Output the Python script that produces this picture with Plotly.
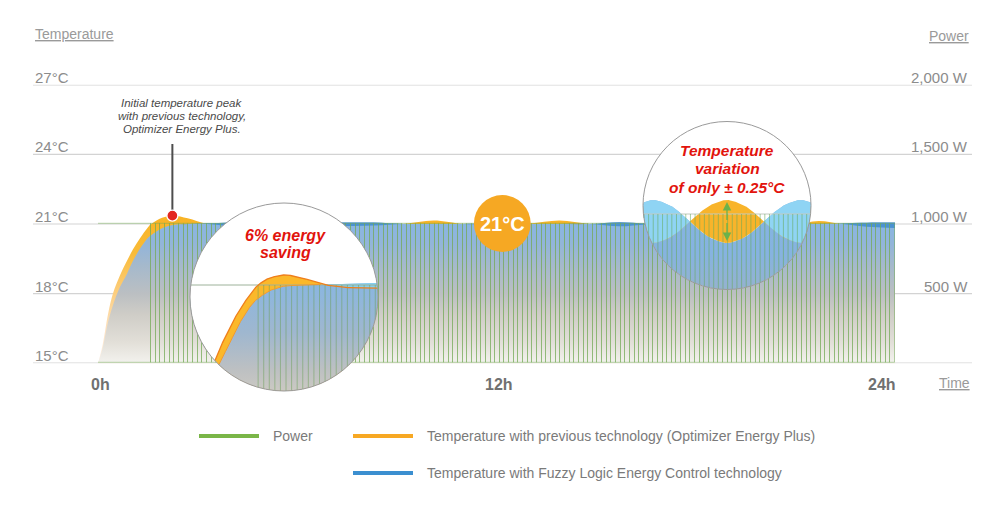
import numpy as np
import plotly.graph_objects as go

# ---------------- data ----------------
hours = [0, 0.14, 0.3, 0.45, 0.65, 0.87, 1.05, 1.27, 1.5, 1.6, 1.93, 2.27, 2.7, 3.3,
         4.0, 5.5, 7.0, 8.3, 9.2, 10.1, 11.0, 11.6, 12.3, 13.0, 13.9, 14.8, 15.7, 16.5,
         17.3, 18.1, 18.9, 19.7, 20.5, 21.0, 21.7, 22.4, 23.0, 23.6, 24.0]
temp_previous = [15.0, 15.8, 17.1, 18.0, 18.75, 19.4, 19.9, 20.4, 20.85, 21.0, 21.27, 21.36, 21.25, 21.0,
                 20.9, 20.88, 20.9, 20.93, 21.0, 21.15, 21.0, 20.97, 21.0, 21.02, 21.15, 21.0, 20.9, 20.98,
                 21.05, 21.12, 21.15, 21.1, 21.0, 20.98, 21.13, 21.0, 20.9, 20.85, 20.83]
temp_fuzzy = [15.0, 15.65, 16.75, 17.5, 18.25, 18.85, 19.4, 19.95, 20.4, 20.52, 20.82, 20.96, 21.0, 21.03,
              21.07, 21.08, 21.07, 21.06, 21.0, 21.0, 21.0, 21.02, 21.0, 21.0, 21.0, 21.0, 21.08, 21.02,
              21.0, 21.0, 21.0, 21.0, 21.0, 21.02, 21.0, 21.02, 21.05, 21.06, 21.06]

# power: one long heating block, then a pulsed control stage
power_block_start_h = [0.0, 1.6]
power_block_end_h = [1.6, 24.0]
power_block_w = [1000, 1000]
power_block_pulsed = [False, True]
pulse_period_h = 0.14

# magnified detail of the oscillation around the set point (right-hand circle)
detail_minutes = [-36, -30, -24, -18, -12, -6, 0, 6, 12, 18, 24, 30, 36]
detail_previous = [20.80, 20.75, 20.80, 20.92, 21.08, 21.20, 21.25, 21.20, 21.08, 20.92, 20.80, 20.75, 20.80]
detail_fuzzy = [21.20, 21.25, 21.20, 21.08, 20.92, 20.80, 20.75, 20.80, 20.92, 21.08, 21.20, 21.25, 21.20]

temp_ticks = [15, 18, 21, 24, 27]
temp_tick_labels = ["15°C", "18°C", "21°C", "24°C", "27°C"]
power_ticks = [500, 1000, 1500, 2000]
power_tick_labels = ["500 W", "1,000 W", "1,500 W", "2,000 W"]
time_ticks = [0, 12, 24]
time_tick_labels = ["0h", "12h", "24h"]
setpoint_c = 21
peak_note = ["Initial temperature peak", "with previous technology,", "Optimizer Energy Plus."]
legend_labels = ["Power", "Temperature with previous technology (Optimizer Energy Plus)",
                 "Temperature with Fuzzy Logic Energy Control technology"]

# ---------------- geometry ----------------
W, H = 1000, 510
X0, X1 = 98.0, 895.0          # pixels of 0h and 24h
Y15, Y27 = 363.2, 84.8        # pixels of 15 and 27 degC
PXH = (X1 - X0) / 24.0
PXT = (Y15 - Y27) / 12.0
FONT = "Liberation Sans, Arial, Helvetica, sans-serif"


def hx(h):
    return X0 + PXH * np.asarray(h, float)


def pchip(xk, yk, x):
    xk = np.asarray(xk, float); yk = np.asarray(yk, float); x = np.asarray(x, float)
    h = np.diff(xk); d = np.diff(yk) / h
    m = np.zeros_like(yk)
    m[0] = d[0]; m[-1] = d[-1]
    for k in range(1, len(xk) - 1):
        if d[k - 1] * d[k] > 0:
            w1 = 2 * h[k] + h[k - 1]; w2 = h[k] + 2 * h[k - 1]
            m[k] = (w1 + w2) / (w1 / d[k - 1] + w2 / d[k])
    i = np.clip(np.searchsorted(xk, x) - 1, 0, len(xk) - 2)
    t = (x - xk[i]) / h[i]
    return ((2 * t**3 - 3 * t**2 + 1) * yk[i] + (t**3 - 2 * t**2 + t) * h[i] * m[i]
            + (-2 * t**3 + 3 * t**2) * yk[i + 1] + (t**3 - t**2) * h[i] * m[i + 1])


def chord(cx, cy, r, xs):
    dy = np.sqrt(np.clip(r * r - (xs - cx) ** 2, 0, None))
    return cy - dy, cy + dy


fig = go.Figure()

# ---------------- main chart ----------------
fig.add_trace(go.Scatter(
    x=hours, y=temp_previous, mode="lines", line=dict(width=0, shape="spline", color="#f8b325"),
    fill="tozeroy", fillgradient=dict(type="vertical", start=15, stop=max(temp_previous), colorscale=[
        [0, "#fff4ea"], [0.22, "#fde3c4"], [0.47, "#fcce80"], [0.75, "#f9bb38"], [1, "#f8b325"]]),
    hoverinfo="skip", showlegend=False))
fig.add_trace(go.Scatter(
    x=hours, y=temp_fuzzy, mode="lines", line=dict(width=0, shape="spline", color="#89b5e2"),
    fill="tozeroy", fillgradient=dict(type="vertical", start=15, stop=21, colorscale=[
        [0, "#f3f2ee"], [0.15, "#e2dfd8"], [0.35, "#cfcdc7"], [0.5, "#bbbfc2"], [0.7, "#a5b9cc"],
        [0.85, "#93b5d9"], [1, "#88b5e2"]]),
    hoverinfo="skip", showlegend=False))
lens_low = [min(a, b) for a, b in zip(temp_previous, temp_fuzzy)]
fig.add_trace(go.Scatter(x=hours, y=temp_fuzzy, mode="lines", line=dict(width=0, shape="spline"),
                         hoverinfo="skip", showlegend=False))
fig.add_trace(go.Scatter(x=hours, y=lens_low, mode="lines", line=dict(width=0, shape="spline"),
                         fill="tonexty", fillcolor="#4a92d2", hoverinfo="skip", showlegend=False))

# power bars
bar_center, bar_width, bar_power, pulse_edges = [], [], [], []
for s, e, p, pulsed in zip(power_block_start_h, power_block_end_h, power_block_w, power_block_pulsed):
    if not pulsed:
        bar_center.append((s + e) / 2); bar_width.append(e - s); bar_power.append(p)
    else:
        n = int(round((e - s) / pulse_period_h))
        for k in range(n):
            a = s + k * pulse_period_h
            bar_center.append(a + pulse_period_h / 2); bar_width.append(pulse_period_h); bar_power.append(p)
            pulse_edges.append(a)
        pulse_edges.append(e)
fig.add_trace(go.Bar(x=bar_center, y=bar_power, width=bar_width, yaxis="y2",
                     marker=dict(color="rgba(0,0,0,0)", line=dict(color="rgba(115,170,85,0.5)", width=1)),
                     hoverinfo="skip", showlegend=False))

# gridlines
for t in temp_ticks:
    fig.add_shape(type="line", xref="x2", yref="y", x0=33, x1=972, y0=t, y1=t,
                  line=dict(color="#d3d3d3", width=1.2), layer="below")


def px_trace(x, y, **kw):
    d = dict(x=list(x), y=list(y), xaxis="x2", yaxis="y3", hoverinfo="skip", showlegend=False)
    d.update(kw)
    fig.add_trace(go.Scatter(**d))


def band(xs, upper, lower, **kw):
    lower = np.maximum(lower, upper)
    px_trace(np.concatenate([xs, xs[::-1]]), np.concatenate([upper, lower[::-1]]),
             mode="lines", line=dict(width=0), fill="toself", **kw)


def clipped_line(xs, ys, top, bot, mask=None, **kw):
    ok = (ys >= top) & (ys <= bot)
    if mask is not None:
        ok &= mask
    yy = [float(v) if o else None for v, o in zip(ys, ok)]
    px_trace(xs, yy, mode="lines", connectgaps=False, **kw)


def disk(cx, cy, r, color):
    a = np.linspace(0, 2 * np.pi, 200)
    px_trace(cx + r * np.cos(a), cy + r * np.sin(a), mode="lines", line=dict(width=0),
             fill="toself", fillcolor=color)


def pulse_lines(cx, cy, r, xpos, ytop, color):
    lx, ly = [], []
    for x in xpos:
        if cx - r < x < cx + r:
            t, b = chord(cx, cy, r, np.array([x]))
            yt = max(float(t[0]), ytop)
            if yt < b[0]:
                lx += [x, x, None]; ly += [yt, float(b[0]), None]
    px_trace(lx, ly, mode="lines", line=dict(color=color, width=1))


def hline_chord(cx, cy, r, y, color):
    dx = np.sqrt(max(r * r - (y - cy) ** 2, 0))
    px_trace([cx - dx, cx + dx], [y, y], mode="lines", line=dict(color=color, width=1))


# ---------------- inset 1: energy saving lens ----------------
C1X, C1Y, C1R = 284.0, 297.0, 94.0
M1 = 1.2
A1H, A1X, A1T, A1Y = 2.45, 292.0, 21.0, 285.0
xs = np.linspace(C1X - C1R, C1X + C1R, 700)
top, bot = chord(C1X, C1Y, C1R, xs)
hh = A1H + (xs - A1X) / (PXH * M1)
valid = (hh >= 0) & (hh <= 24)
pv = np.where(valid, pchip(hours, temp_previous, np.clip(hh, 0, 24)), 10)
fz = np.where(valid, pchip(hours, temp_fuzzy, np.clip(hh, 0, 24)), 10)
pv_px = A1Y - (pv - A1T) * PXT * M1
fz_px = A1Y - (fz - A1T) * PXT * M1
disk(C1X, C1Y, C1R, "white")
band(xs, np.clip(pv_px, top, bot), bot, fillcolor="#fbb82a")
band(xs, np.clip(fz_px, top, bot), bot, fillcolor="#8cb6de",
     fillgradient=dict(type="vertical", start=A1Y, stop=C1Y + C1R,
                       colorscale=[[0, "#8ab6e0"], [0.45, "#9fb7cf"], [0.8, "#bdc0c2"], [1, "#cbc9c3"]]))
band(xs, np.clip(fz_px, top, bot), np.clip(pv_px, top, bot), fillcolor="#84d0f1")
hline_chord(C1X, C1Y, C1R, A1Y - (setpoint_c - A1T) * PXT * M1, "#9db29a")
inset1_edges = [A1X + (e - A1H) * PXH * M1 for e in pulse_edges]
pulse_lines(C1X, C1Y, C1R, inset1_edges, A1Y - (setpoint_c - A1T) * PXT * M1, "rgba(105,160,85,0.5)")
clipped_line(xs, pv_px, top, bot, line=dict(color="#ef7e1b", width=1.3))
clipped_line(xs, fz_px, top, bot, mask=(pv_px < fz_px - 0.3), line=dict(color="#f39a2e", width=1))

# ---------------- inset 2: variation lens ----------------
C2X, C2Y, C2R = 727.0, 205.5, 84.0
PXM = 74.0 / 30.0       # pixels per minute in the detail
PXT2 = 86.0             # pixels per degC in the detail
A2Y = 221.5             # pixel of the set point in the detail
BAR2_TOP = 214.0
xs2 = np.linspace(C2X - C2R, C2X + C2R, 700)
top2, bot2 = chord(C2X, C2Y, C2R, xs2)
mm = (xs2 - C2X) / PXM
dp_px = A2Y - (pchip(detail_minutes, detail_previous, mm) - setpoint_c) * PXT2
df_px = A2Y - (pchip(detail_minutes, detail_fuzzy, mm) - setpoint_c) * PXT2
disk(C2X, C2Y, C2R, "white")
band(xs2, np.clip(df_px, top2, bot2), bot2, fillcolor="#88b5e0",
     fillgradient=dict(type="vertical", start=200, stop=C2Y + C2R,
                       colorscale=[[0, "#84b4e2"], [0.6, "#86b3e0"], [1, "#95b2cf"]]))
band(xs2, np.clip(df_px, top2, bot2), np.clip(dp_px, top2, bot2), fillcolor="#8fd4f4")
band(xs2, np.clip(dp_px, top2, bot2), np.clip(df_px, top2, bot2), fillcolor="#f8b42b")
hline_chord(C2X, C2Y, C2R, BAR2_TOP, "#c3cbc0")
pulse_lines(C2X, C2Y, C2R, list(hx(pulse_edges)), BAR2_TOP, "rgba(100,170,90,0.55)")

# ---------------- decorations (shapes) ----------------
for cx, cy, r in [(C1X, C1Y, C1R), (C2X, C2Y, C2R)]:
    fig.add_shape(type="circle", xref="x2", yref="y3", x0=cx - r, x1=cx + r, y0=cy - r, y1=cy + r,
                  line=dict(color="#9a9a9a", width=1), fillcolor="rgba(0,0,0,0)", layer="above")
# set point badge
SPX, SPY, SPR = 502.3, 223.5, 28.4
fig.add_shape(type="circle", xref="x2", yref="y3", x0=SPX - SPR, x1=SPX + SPR, y0=SPY - SPR, y1=SPY + SPR,
              line=dict(width=0), fillcolor="#f6a823", layer="above")
# peak marker
pk = int(np.argmax(temp_previous))
pkx = float(hx(hours[pk])) - 1
pky = float(Y15 - (temp_previous[pk] - 15) * PXT)
fig.add_shape(type="line", xref="x2", yref="y3", x0=pkx, x1=pkx, y0=144, y1=pky - 4,
              line=dict(color="#4d4d4d", width=2), layer="above")
fig.add_shape(type="circle", xref="x2", yref="y3", x0=pkx - 5.5, x1=pkx + 5.5, y0=pky - 5.5, y1=pky + 5.5,
              line=dict(color="white", width=1.3), fillcolor="#e3271e", layer="above")

# arrows in inset 2
for tip in [A2Y - 0.25 * PXT2 + 2, A2Y + 0.25 * PXT2 - 2]:
    fig.add_annotation(x=C2X, y=tip, ax=C2X, ay=A2Y, xref="x2", yref="y3", axref="x2", ayref="y3",
                       text="", showarrow=True, arrowhead=2, arrowsize=1.3, arrowwidth=1.3, arrowcolor="#6cb24b")

# legend
leg_colors = ["#7ab648", "#f7a823", "#3b8fd0"]
leg_pos = [(199, 259, 436, 271), (353, 413, 436, 425), (353, 413, 473, 425)]
for (x0, x1, y, tx), col, lab in zip(leg_pos, leg_colors, legend_labels):
    fig.add_shape(type="line", xref="x2", yref="y3", x0=x0, x1=x1, y0=y, y1=y,
                  line=dict(color=col, width=4), layer="above")
    fig.add_annotation(x=tx, y=y, xref="x2", yref="y3", text=lab, showarrow=False, xanchor="left",
                       yanchor="middle", font=dict(family=FONT, size=14, color="#7a7a7a"))


# ---------------- texts ----------------
def ann(x, y, text, size, color, xanchor="center", yanchor="middle", xref="x2", yref="y3", **kw):
    fig.add_annotation(x=x, y=y, text=text, xref=xref, yref=yref, showarrow=False, xanchor=xanchor,
                       yanchor=yanchor, font=dict(family=FONT, size=size, color=color), **kw)


for t, lab in zip(temp_ticks, temp_tick_labels):
    ann(33, t, lab, 15, "#8c8c8c", xanchor="left", yanchor="bottom", yref="y", yshift=-3)
for p, lab in zip(power_ticks, power_tick_labels):
    ann(970, p, lab, 15, "#8c8c8c", xanchor="right", yanchor="bottom", yref="y2", yshift=-3)
ul = '<span style="text-decoration:underline">%s</span>'
ann(33, 34, ul % "Temperature", 14, "#9a9a9a", xanchor="left")
ann(971, 36, ul % "Power", 14, "#9a9a9a", xanchor="right")
ann(972, 383, ul % "Time", 14, "#9a9a9a", xanchor="right")
for h, lab in zip(time_ticks, time_tick_labels):
    if h == time_ticks[-1]:
        ann(h, 384, "<b>%s</b>" % lab, 16, "#707070", xanchor="right", xref="x", xshift=3)
    else:
        ann(h, 384, "<b>%s</b>" % lab, 16, "#707070", xref="x", xshift=2)
for i, line in enumerate(peak_note):
    ann(181.5, 103.3 + 13 * i, "<i>%s</i>" % line, 11.5, "#4a4a4a")
ann(SPX, SPY, "<b>%d°C</b>" % setpoint_c, 20, "white")
RED = "#e2140d"
ann(285, 235, "<b><i>6% energy</i></b>", 16, RED)
ann(285, 252, "<b><i>saving</i></b>", 16, RED)
ann(C2X, 150, "<b><i>Temperature</i></b>", 15.5, RED)
ann(C2X, 168.5, "<b><i>variation</i></b>", 15.5, RED)
ann(C2X, 187, "<b><i>of only ± 0.25°C</i></b>", 15.5, RED)

# ---------------- layout ----------------
fig.update_layout(
    width=W, height=H, margin=dict(l=0, r=0, t=0, b=0),
    paper_bgcolor="white", plot_bgcolor="rgba(0,0,0,0)", showlegend=False,
    xaxis=dict(domain=[X0 / W, X1 / W], range=[0, 24], visible=False, fixedrange=True),
    yaxis=dict(domain=[1 - Y15 / H, 1 - Y27 / H], range=[15, 27], visible=False, fixedrange=True),
    yaxis2=dict(overlaying="y", anchor="x", range=[0, 2000], visible=False, fixedrange=True),
    xaxis2=dict(domain=[0, 1], range=[0, W], visible=False, anchor="y3", fixedrange=True),
    yaxis3=dict(domain=[0, 1], range=[H, 0], visible=False, anchor="x2", fixedrange=True),
    bargap=0,
)
fig.write_html("out.html", config={"displayModeBar": False},
               post_script="document.body.style.margin='0px';document.body.style.overflow='hidden';")
